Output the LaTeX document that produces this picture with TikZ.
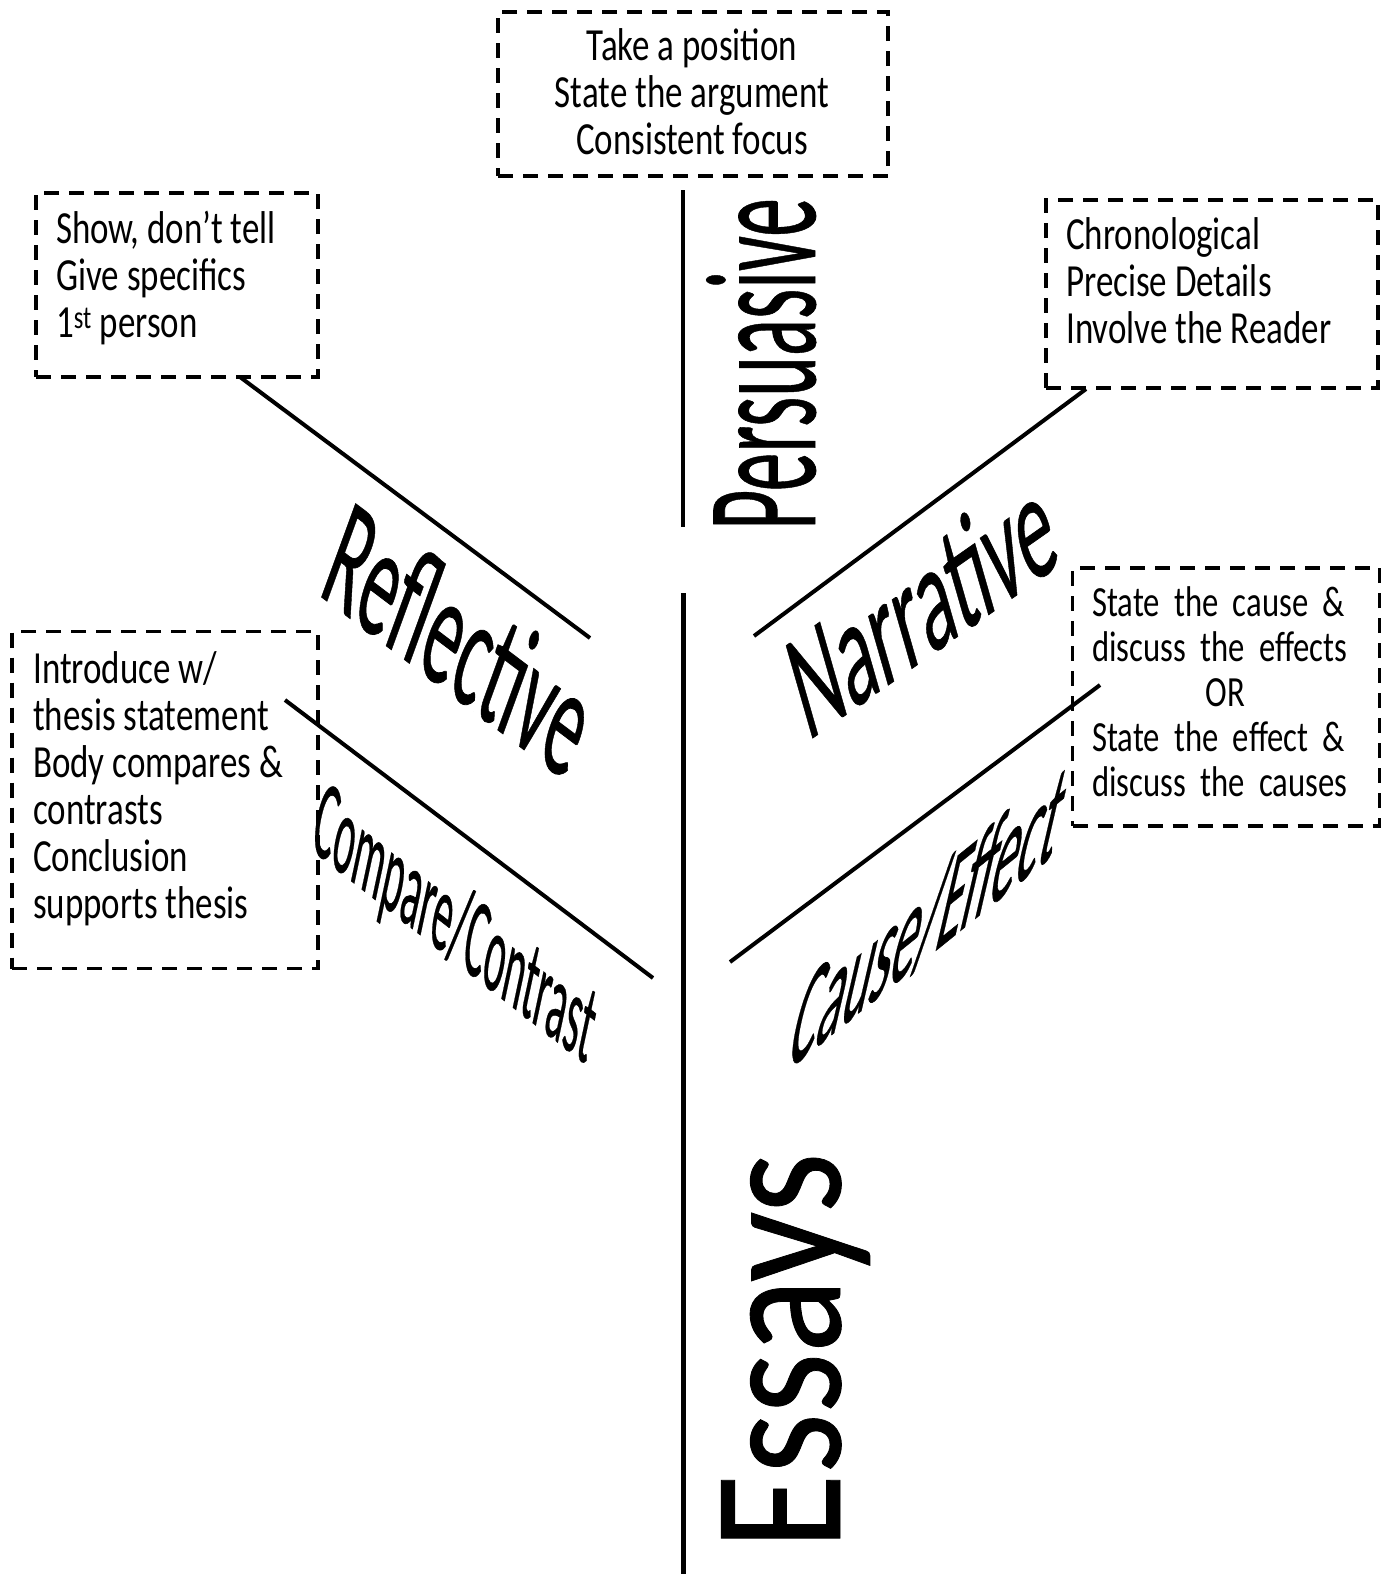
\documentclass[tikz,border=0pt]{standalone}
\usepackage{fontspec}
\setmainfont{Carlito}
\newfontfamily\notefont[FakeStretch=0.76]{Carlito}
\newfontfamily\bigfont[FakeBold=0.5]{Carlito}

\begin{document}
\begin{tikzpicture}[x=1pt, y=-1pt,
    dashbox/.style={draw, line width=3.5pt, dash pattern=on 15pt off 10pt, inner sep=0pt},
    notes/.style={inner sep=0pt, align=left, font=\notefont\fontsize{46}{47}\selectfont},
    branch/.style={line width=4pt},
    bigword/.style={inner sep=0pt, font=\bigfont\fontsize{#1}{#1}\selectfont}]

  \useasboundingbox (0,0) rectangle (1393,1574);

  % Trunk, split in two
  \coordinate (t1) at (683,190); \coordinate (t2) at (683,527);
  \coordinate (t3) at (683,593); \coordinate (t4) at (683,1574);
  \draw[line width=4pt] (t1) -- (t2);
  \draw[line width=5pt] (t3) -- (t4);

  % Branches: left side goes down, right side goes up
  \coordinate (r1) at (240,377); \coordinate (r2) at (590,638);
  \coordinate (c1) at (285,700); \coordinate (c2) at (653,978);
  \coordinate (n1) at (1086,389); \coordinate (n2) at (754,636);
  \coordinate (e1) at (1100,685); \coordinate (e2) at (730,962);
  \foreach \a/\b in {r1/r2, c1/c2, n1/n2, e1/e2} \draw[branch] (\a) -- (\b);

  % Dashed boxes
  \node[dashbox, minimum width=390pt, minimum height=164pt] (persbox) at (693,94) {};
  \node[dashbox, minimum width=282pt, minimum height=184pt] (showbox) at (177,285) {};
  \node[dashbox, minimum width=332pt, minimum height=188pt] (chronbox) at (1212,294) {};
  \node[dashbox, minimum width=306pt, minimum height=337pt] (introbox) at (165,800) {};
  \node[dashbox, minimum width=307pt, minimum height=258pt] (causebox) at (1226,697) {};

  % Box texts
  \node[notes, align=center, anchor=north] (perstext) at (692,28)
    {Take a position\\State the argument\\Consistent focus};
  \node[notes, anchor=north west] (showtext) at (56,211)
    {Show, don’t tell\\Give specifics\\1\textsuperscript{st} person};
  \node[notes, anchor=north west] (chrontext) at (1066,217)
    {Chronological\\Precise Details\\Involve the Reader};
  \node[notes, anchor=north west] (introtext) at (33,651)
    {Introduce w/\\thesis statement\\Body compares \&\\contrasts\\Conclusion\\supports thesis};
  \node[notes, anchor=north west, text width=266pt, font=\notefont\fontsize{43}{45}\selectfont] (causetext) at (1092,586)
    {State the cause \&\\discuss the effects\\\makebox[\hsize]{OR}\\State the effect \&\\discuss the causes};

  % Big labels
  \node[bigword=158, anchor=base, cm={0,0.49,-1,0,(0,0)}] (persuasive) at (815,364) {Persuasive};
  \node[bigword=185, anchor=base, cm={0,0.835,-1,0,(0,0)}] (essays) at (840,1351) {Essays};
  \node[bigword=155, cm={0.407,-0.307,0.342,0.940,(0,0)}] (reflective) at (460,638) {Reflective};
  \node[bigword=110, cm={0.335,-0.262,0.208,0.978,(0,0)}] (compare) at (454,928) {Compare/Contrast};
  \node[bigword=150, cm={0.451,0.316,-0.276,0.961,(0,0)}] (narrative) at (921,603) {Narrative};
  \node[bigword=152, cm={0.346,0.280,0.225,0.974,(0,0)}] (cause) at (929,917) {Cause/Effect};
\end{tikzpicture}
\end{document}
